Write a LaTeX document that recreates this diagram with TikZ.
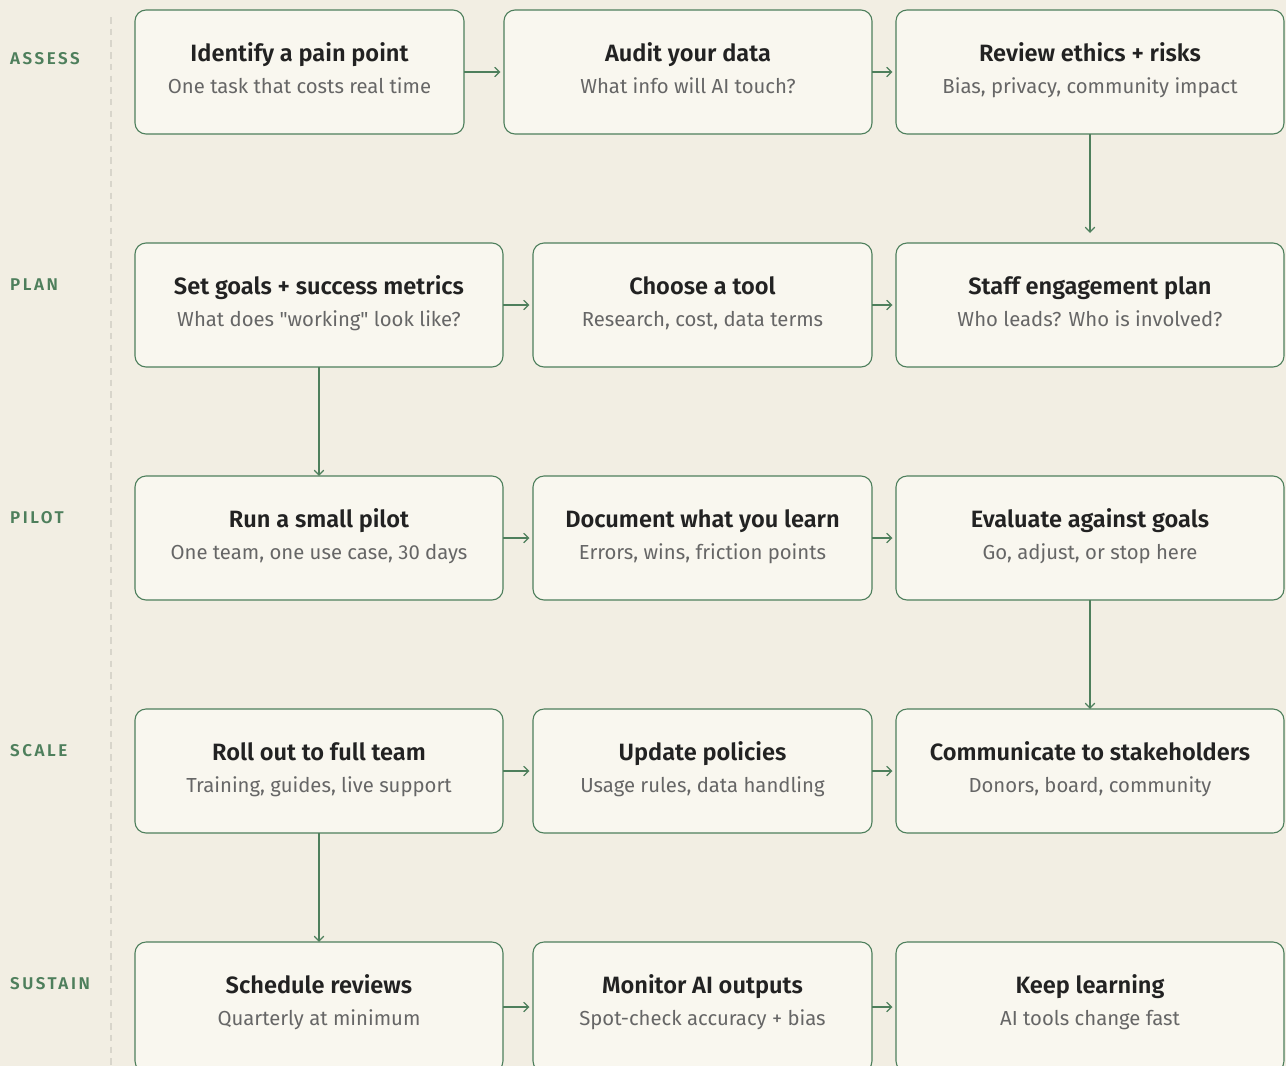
\documentclass[tikz,border=0pt]{standalone}
\usepackage{fontspec}
\setmainfont{Fira Sans}[BoldFont={Fira Sans SemiBold}, Ligatures=TeXOff]
\usetikzlibrary{arrows.meta}
\definecolor{bg}{HTML}{F2EEE3}
\definecolor{boxfill}{HTML}{F9F7EF}
\definecolor{grn}{HTML}{4E7F5C}
\definecolor{ttl}{HTML}{222222}
\definecolor{sub}{HTML}{666666}
\definecolor{dashgray}{HTML}{D8D5CB}
\tikzset{
  stepbox/.style={draw=grn, line width=1.1pt, fill=boxfill, rounded corners=11pt},
  ttltext/.style={font=\fontsize{23.6}{26}\selectfont\bfseries, text=ttl, anchor=base, inner sep=0pt},
  subtext/.style={font=\fontsize{20.3}{24}\selectfont, text=sub, anchor=base, inner sep=0pt},
  phase/.style={font=\fontsize{17}{19}\selectfont\bfseries\addfontfeature{LetterSpace=15}, text=grn, anchor=base west, inner sep=0pt},
  flow/.style={draw=grn, line width=1.2pt, -{Straight Barb[length=5pt,width=9.5pt,line width=1.2pt]}},
}
\newcommand{\stepnode}[7]{% name, x1, y1, x2, y2, title, subtitle
  \path[stepbox] (#2,#3) rectangle (#4,#5);
  \coordinate (#1-w) at (#2,{(#3+#5)/2});
  \coordinate (#1-e) at (#4,{(#3+#5)/2});
  \coordinate (#1-n) at ({(#2+#4)/2},#3);
  \coordinate (#1-s) at ({(#2+#4)/2},#5);
  \node[ttltext] (#1-t) at ({(#2+#4)/2},#3+51) {#6};
  \node[subtext] (#1-u) at ({(#2+#4)/2},#3+83) {#7};
}
\begin{document}
\begin{tikzpicture}[x=1pt,y=-1pt]
\fill[bg] (0,0) rectangle (1286,1066);
\useasboundingbox (0,0) rectangle (1286,1066);
\draw[draw=dashgray, line width=2pt, dash pattern=on 6.5pt off 5.2pt] (111,17) -- (111,1066);

\node[phase] (pA) at (10,64) {ASSESS};
\node[phase] (pB) at (10,290) {PLAN};
\node[phase] (pC) at (10,523) {PILOT};
\node[phase] (pD) at (10,756) {SCALE};
\node[phase] (pE) at (10,989) {SUSTAIN};

\stepnode{a1}{135}{10}{464}{134}{Identify a pain point}{One task that costs real time}
\stepnode{a2}{504}{10}{872}{134}{Audit your data}{What info will AI touch?}
\stepnode{a3}{896}{10}{1284}{134}{Review ethics + risks}{Bias, privacy, community impact}

\stepnode{b1}{135}{243}{503}{367}{Set goals + success metrics}{What does "working" look like?}
\stepnode{b2}{533}{243}{872}{367}{Choose a tool}{Research, cost, data terms}
\stepnode{b3}{896}{243}{1284}{367}{Staff engagement plan}{Who leads? Who is involved?}

\stepnode{c1}{135}{476}{503}{600}{Run a small pilot}{One team, one use case, 30 days}
\stepnode{c2}{533}{476}{872}{600}{Document what you learn}{Errors, wins, friction points}
\stepnode{c3}{896}{476}{1284}{600}{Evaluate against goals}{Go, adjust, or stop here}

\stepnode{d1}{135}{709}{503}{833}{Roll out to full team}{Training, guides, live support}
\stepnode{d2}{533}{709}{872}{833}{Update policies}{Usage rules, data handling}
\stepnode{d3}{896}{709}{1284}{833}{Communicate to stakeholders}{Donors, board, community}

\stepnode{e1}{135}{942}{503}{1072}{Schedule reviews}{Quarterly at minimum}
\stepnode{e2}{533}{942}{872}{1072}{Monitor AI outputs}{Spot-check accuracy + bias}
\stepnode{e3}{896}{942}{1284}{1072}{Keep learning}{AI tools change fast}

\draw[flow, shorten >=3.5pt] (a1-e) -- (a2-w);
\draw[flow, shorten >=3.5pt] (a2-e) -- (a3-w);
\draw[flow, shorten >=10pt] (a3-s) -- (b3-n);
\draw[flow, shorten >=3.5pt] (b1-e) -- (b2-w);
\draw[flow, shorten >=3.5pt] (b2-e) -- (b3-w);
\draw[flow] (b1-s) -- (c1-n);
\draw[flow, shorten >=3.5pt] (c1-e) -- (c2-w);
\draw[flow, shorten >=3.5pt] (c2-e) -- (c3-w);
\draw[flow] (c3-s) -- (d3-n);
\draw[flow, shorten >=3.5pt] (d1-e) -- (d2-w);
\draw[flow, shorten >=3.5pt] (d2-e) -- (d3-w);
\draw[flow] (d1-s) -- (e1-n);
\draw[flow, shorten >=3.5pt] (e1-e) -- (e2-w);
\draw[flow, shorten >=3.5pt] (e2-e) -- (e3-w);
\end{tikzpicture}
\end{document}
